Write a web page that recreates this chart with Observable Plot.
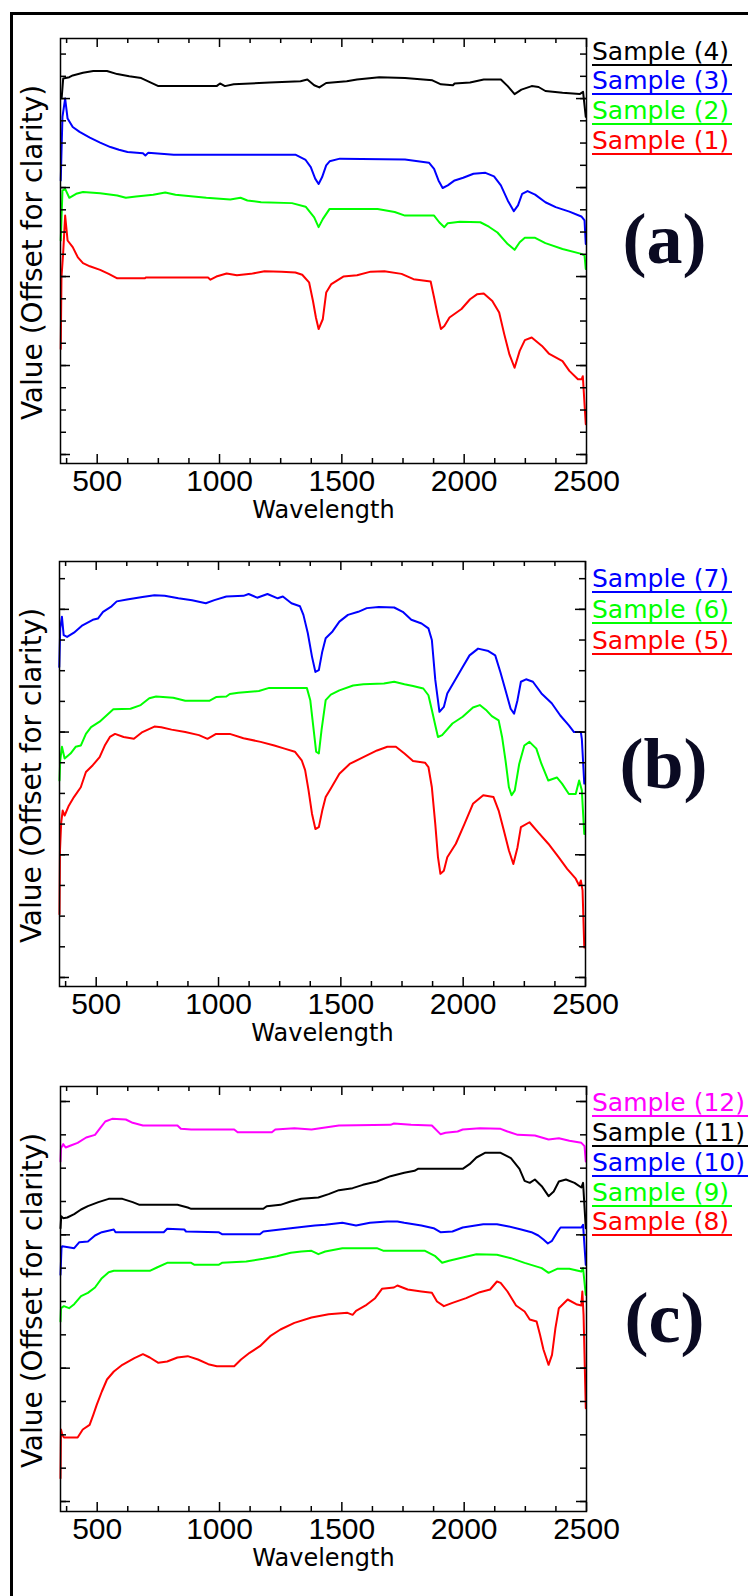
<!DOCTYPE html>
<html><head><meta charset="utf-8">
<script src="https://cdn.jsdelivr.net/npm/d3@7"></script>
<script src="https://cdn.jsdelivr.net/npm/@observablehq/plot@0.6"></script>
<style>
html,body{margin:0;padding:0;background:#fff;}
#page{position:relative;width:748px;height:1596px;overflow:hidden;background:#fff;}
#border{position:absolute;left:10px;top:12px;width:800px;height:1700px;border-left:3px solid #000;border-top:3px solid #000;}
.panel{position:absolute;}
.leg{position:absolute;left:592px;font-family:"DejaVu Sans";font-size:25px;line-height:25px;height:25px;white-space:nowrap;padding-right:3px;border-bottom:2px solid;}
</style></head>
<body><div id="page"><div id="border"></div></div>
<script>
// ---------- data (wavelength nm, offset value) ----------
const xMajor = [500, 1000, 1500, 2000, 2500];
const xMinor = [375, 625, 750, 875, 1125, 1250, 1375, 1625, 1750, 1875, 2125, 2250, 2375];

// Panel (a)
const wl4 = [355,361,386,400,442,484,540,582,631,680,715,750,988,1002,1022,1058,1205,1331,1359,1387,1408,1436,1520,1562,1653,1758,1870,1905,1954,1961,2024,2080,2150,2178,2206,2234,2276,2304,2332,2402,2472,2486,2497];
const s4  = [0.803,0.845,0.848,0.852,0.858,0.862,0.862,0.855,0.850,0.846,0.837,0.828,0.828,0.834,0.828,0.832,0.836,0.839,0.843,0.830,0.825,0.835,0.839,0.843,0.848,0.846,0.841,0.832,0.830,0.834,0.836,0.843,0.843,0.828,0.810,0.820,0.828,0.826,0.817,0.813,0.810,0.815,0.759];
const wl3 = [351,358,369,379,400,428,470,512,554,589,624,687,697,708,813,1310,1352,1373,1391,1405,1419,1436,1450,1492,1758,1856,1877,1895,1912,1933,1961,1996,2038,2087,2122,2150,2178,2203,2220,2237,2259,2290,2332,2374,2430,2479,2492,2497];
const s3  = [0.616,0.759,0.800,0.755,0.736,0.725,0.712,0.701,0.691,0.685,0.680,0.677,0.672,0.678,0.674,0.674,0.662,0.646,0.620,0.608,0.623,0.650,0.659,0.665,0.663,0.656,0.642,0.616,0.599,0.605,0.616,0.622,0.631,0.633,0.625,0.605,0.571,0.547,0.560,0.586,0.592,0.584,0.567,0.556,0.546,0.535,0.526,0.473];
const wl2 = [351,358,369,386,414,442,512,582,617,659,729,778,820,946,1044,1086,1114,1170,1296,1352,1387,1405,1422,1450,1646,1716,1758,1877,1898,1919,1933,1982,2066,2101,2136,2178,2206,2227,2248,2290,2332,2402,2479,2492,2497];
const s2  = [0.481,0.593,0.597,0.577,0.586,0.590,0.587,0.582,0.577,0.580,0.584,0.589,0.584,0.577,0.573,0.577,0.571,0.567,0.565,0.557,0.533,0.511,0.529,0.552,0.552,0.545,0.537,0.537,0.522,0.511,0.520,0.523,0.522,0.512,0.499,0.473,0.460,0.477,0.487,0.487,0.475,0.462,0.451,0.447,0.417];
const wl1 = [351,354,361,369,379,400,421,442,470,512,547,582,694,700,953,963,987,1029,1071,1128,1184,1254,1310,1338,1366,1382,1394,1405,1422,1436,1457,1506,1562,1618,1674,1744,1793,1863,1877,1891,1905,1919,1940,1989,2024,2052,2080,2115,2143,2164,2185,2206,2227,2248,2276,2318,2346,2402,2430,2465,2480,2485,2497];
const s1  = [0.237,0.398,0.454,0.537,0.481,0.466,0.443,0.430,0.423,0.415,0.406,0.396,0.396,0.398,0.398,0.393,0.400,0.407,0.403,0.406,0.412,0.411,0.409,0.404,0.387,0.345,0.308,0.282,0.304,0.364,0.383,0.400,0.403,0.411,0.412,0.406,0.394,0.389,0.353,0.315,0.282,0.289,0.308,0.327,0.349,0.360,0.362,0.345,0.319,0.270,0.225,0.195,0.233,0.257,0.263,0.244,0.227,0.210,0.188,0.169,0.169,0.176,0.068];

// Panel (b)
const wl7 = [349,353,360,367,381,409,444,486,507,528,563,584,626,689,738,780,836,892,948,983,1032,1102,1123,1158,1200,1242,1263,1298,1333,1347,1365,1382,1396,1410,1424,1438,1466,1494,1529,1571,1606,1655,1718,1753,1788,1830,1858,1872,1886,1903,1921,1935,1963,1998,2026,2061,2103,2131,2152,2173,2194,2208,2222,2236,2257,2285,2320,2362,2397,2432,2453,2481,2485,2495];
const s7  = [0.506,0.569,0.588,0.558,0.555,0.562,0.574,0.583,0.585,0.596,0.605,0.613,0.616,0.620,0.623,0.622,0.618,0.615,0.610,0.615,0.621,0.622,0.625,0.619,0.625,0.618,0.621,0.610,0.605,0.591,0.561,0.523,0.498,0.501,0.531,0.553,0.564,0.580,0.591,0.596,0.602,0.604,0.603,0.596,0.583,0.577,0.569,0.550,0.485,0.433,0.441,0.463,0.482,0.506,0.525,0.536,0.532,0.525,0.498,0.468,0.438,0.430,0.452,0.482,0.486,0.482,0.463,0.447,0.427,0.411,0.400,0.400,0.389,0.316];
const wl6 = [350,353,360,371,395,416,437,458,479,514,542,570,640,682,717,745,815,864,962,990,1032,1046,1081,1165,1207,1361,1375,1389,1399,1410,1421,1438,1459,1494,1550,1592,1676,1718,1760,1795,1837,1858,1872,1886,1897,1914,1956,1998,2040,2068,2096,2117,2145,2159,2173,2187,2198,2211,2229,2250,2271,2299,2320,2348,2383,2404,2432,2460,2474,2485,2495];
const s6  = [0.321,0.354,0.376,0.357,0.365,0.376,0.378,0.397,0.408,0.417,0.427,0.437,0.438,0.444,0.455,0.458,0.456,0.451,0.451,0.457,0.458,0.462,0.464,0.467,0.472,0.472,0.452,0.403,0.368,0.365,0.403,0.452,0.461,0.468,0.476,0.478,0.479,0.482,0.478,0.475,0.471,0.460,0.436,0.411,0.392,0.395,0.414,0.425,0.440,0.444,0.435,0.426,0.419,0.392,0.354,0.310,0.297,0.305,0.348,0.378,0.384,0.373,0.348,0.321,0.326,0.316,0.299,0.299,0.321,0.305,0.234];
const wl5 = [350,352,357,363,371,388,409,437,458,486,514,535,556,577,612,654,689,738,766,808,864,920,955,990,1046,1102,1172,1228,1270,1312,1340,1354,1368,1382,1396,1410,1424,1438,1459,1494,1536,1592,1648,1690,1725,1760,1795,1844,1858,1872,1886,1897,1907,1921,1935,1970,2005,2040,2082,2124,2145,2166,2187,2205,2222,2236,2271,2306,2348,2390,2425,2460,2474,2481,2488,2495];
const s5  = [0.103,0.207,0.253,0.272,0.264,0.280,0.294,0.310,0.335,0.346,0.359,0.378,0.392,0.397,0.392,0.389,0.400,0.409,0.408,0.404,0.400,0.395,0.389,0.397,0.397,0.390,0.384,0.378,0.373,0.368,0.354,0.338,0.305,0.267,0.242,0.245,0.272,0.294,0.308,0.332,0.348,0.359,0.370,0.376,0.376,0.365,0.353,0.350,0.343,0.310,0.250,0.196,0.169,0.174,0.196,0.218,0.250,0.283,0.297,0.294,0.272,0.240,0.207,0.185,0.212,0.245,0.253,0.237,0.218,0.196,0.177,0.161,0.150,0.158,0.142,0.049];

// Panel (c)
const wl12 = [350,352,361,371,392,420,455,491,512,533,561,617,645,687,828,842,884,1060,1074,1214,1228,1306,1376,1432,1488,1699,1713,1783,1868,1903,1924,1973,1994,2064,2149,2177,2219,2289,2345,2387,2430,2479,2492,2497];
const s12  = [0.510,0.530,0.536,0.531,0.534,0.538,0.546,0.550,0.560,0.570,0.574,0.573,0.568,0.564,0.564,0.559,0.558,0.558,0.554,0.554,0.558,0.560,0.558,0.561,0.564,0.565,0.567,0.565,0.564,0.551,0.553,0.555,0.558,0.560,0.559,0.555,0.550,0.549,0.543,0.545,0.541,0.538,0.533,0.510];
const wl11 = [350,353,361,378,406,434,462,505,547,603,645,673,828,870,884,1179,1193,1249,1291,1334,1404,1446,1488,1544,1586,1643,1699,1755,1797,1811,1994,2022,2050,2085,2149,2191,2226,2247,2268,2289,2317,2345,2366,2387,2416,2451,2479,2486,2497];
const s11  = [0.410,0.428,0.425,0.426,0.431,0.438,0.443,0.449,0.454,0.454,0.449,0.445,0.445,0.441,0.439,0.439,0.443,0.445,0.450,0.454,0.456,0.461,0.467,0.470,0.475,0.480,0.488,0.493,0.496,0.499,0.499,0.506,0.516,0.523,0.523,0.515,0.499,0.481,0.478,0.483,0.473,0.458,0.465,0.480,0.483,0.478,0.471,0.478,0.410];
const wl10 = [350,354,357,406,427,462,491,519,568,575,772,786,856,863,996,1010,1165,1179,1291,1362,1390,1432,1502,1558,1615,1685,1727,1755,1825,1875,1903,1952,1994,2078,2134,2177,2233,2275,2303,2324,2342,2359,2380,2394,2479,2486,2497];
const s10  = [0.340,0.380,0.383,0.380,0.389,0.390,0.399,0.404,0.408,0.404,0.404,0.409,0.408,0.405,0.404,0.401,0.401,0.405,0.410,0.413,0.414,0.415,0.418,0.414,0.418,0.420,0.420,0.418,0.414,0.410,0.404,0.405,0.411,0.416,0.416,0.413,0.408,0.404,0.399,0.393,0.387,0.391,0.404,0.411,0.411,0.415,0.355];
const wl9 = [350,352,364,385,406,434,462,491,519,547,568,715,744,786,884,898,996,1010,1109,1179,1235,1291,1334,1376,1404,1432,1502,1643,1671,1840,1882,1910,1938,1994,2050,2134,2191,2247,2317,2345,2380,2430,2479,2486,2497];
const s9  = [0.270,0.290,0.293,0.290,0.296,0.308,0.313,0.321,0.335,0.344,0.346,0.346,0.351,0.358,0.358,0.355,0.355,0.358,0.360,0.364,0.368,0.373,0.375,0.376,0.371,0.375,0.380,0.380,0.376,0.376,0.368,0.358,0.361,0.366,0.371,0.370,0.365,0.358,0.350,0.343,0.349,0.349,0.345,0.350,0.310];
const wl8 = [350,352,357,364,420,441,469,484,498,519,540,568,603,652,687,715,750,786,828,870,912,954,989,1060,1088,1123,1165,1207,1249,1306,1376,1446,1523,1544,1558,1601,1636,1664,1713,1727,1769,1825,1868,1889,1917,1952,2008,2064,2106,2134,2149,2177,2212,2247,2268,2296,2310,2324,2345,2359,2373,2387,2423,2458,2479,2483,2488,2497];
const s8  = [0.035,0.108,0.100,0.096,0.096,0.108,0.115,0.130,0.145,0.165,0.183,0.195,0.205,0.215,0.221,0.216,0.208,0.210,0.216,0.218,0.213,0.206,0.203,0.203,0.213,0.223,0.233,0.248,0.258,0.268,0.276,0.281,0.283,0.280,0.286,0.295,0.305,0.319,0.321,0.324,0.318,0.315,0.313,0.300,0.293,0.298,0.305,0.314,0.318,0.330,0.328,0.315,0.294,0.285,0.273,0.270,0.250,0.228,0.205,0.220,0.260,0.290,0.303,0.296,0.294,0.315,0.280,0.140];

const panels = [
  {tag:"(a)", top:0, left:0, yDomain:[-0.0202,0.935], yMinor:d3.range(0,0.901,0.05), yMajor:[0,0.2,0.4,0.6,0.8], tagDy:224,
   series:[{name:"Sample (4)",w:wl4,v:s4,color:"#000000"},{name:"Sample (3)",w:wl3,v:s3,color:"#0000ff"},{name:"Sample (2)",w:wl2,v:s2,color:"#00ff00"},{name:"Sample (1)",w:wl1,v:s1,color:"#ff0000"}],
   legendY:[64.5,94,123.5,153.5]},
  {tag:"(b)", top:523, left:-1.5, yDomain:[-0.0147,0.678], yMinor:d3.range(0,0.651,0.05), yMajor:[0,0.2,0.4,0.6], tagDy:226,
   series:[{name:"Sample (7)",w:wl7,v:s7,color:"#0000ff"},{name:"Sample (6)",w:wl6,v:s6,color:"#00ff00"},{name:"Sample (5)",w:wl5,v:s5,color:"#ff0000"}],
   legendY:[592,623,653.5]},
  {tag:"(c)", top:1048, left:0, yDomain:[-0.015,0.6225], yMinor:d3.range(0,0.601,0.05), yMajor:[0,0.2,0.4,0.6], tagDy:255,
   series:[{name:"Sample (12)",w:wl12,v:s12,color:"#ff00ff"},{name:"Sample (11)",w:wl11,v:s11,color:"#000000"},{name:"Sample (10)",w:wl10,v:s10,color:"#0000ff"},{name:"Sample (9)",w:wl9,v:s9,color:"#00ff00"},{name:"Sample (8)",w:wl8,v:s8,color:"#ff0000"}],
   legendY:[1116,1146,1175.5,1206,1235]}
];

const W = 748, H = 525, mt = 38, mb = 62, ml = 60, mr = 162;
const fh = H - mt - mb, fw = W - ml - mr;
const page = document.getElementById("page");

for (const p of panels) {
  const lines = p.series.map(s => Plot.line(s.w.map((w, i) => [w, s.v[i]]), {stroke: s.color, strokeWidth: 2}));
  const chart = Plot.plot({
    width: W, height: H, marginTop: mt, marginBottom: mb, marginLeft: ml, marginRight: mr,
    x: {domain: [350, 2500]},
    y: {domain: p.yDomain, axis: null},
    style: {fontFamily: "Liberation Sans", background: "transparent", overflow: "visible"},
    marks: [
      ...lines,
      Plot.tickX(xMinor, {x: d => d, insetTop: fh - 5, strokeWidth: 1.5}),
      Plot.tickX(xMinor, {x: d => d, insetBottom: fh - 5, strokeWidth: 1.5}),
      Plot.tickX(xMajor, {x: d => d, insetTop: fh - 9, strokeWidth: 1.5}),
      Plot.tickX(xMajor, {x: d => d, insetBottom: fh - 9, strokeWidth: 1.5}),
      Plot.tickY(p.yMinor, {y: d => d, insetRight: fw - 6, strokeWidth: 1.5}),
      Plot.tickY(p.yMinor, {y: d => d, insetLeft: fw - 6, strokeWidth: 1.5}),
      Plot.tickY(p.yMajor, {y: d => d, insetRight: fw - 10, strokeWidth: 1.5}),
      Plot.tickY(p.yMajor, {y: d => d, insetLeft: fw - 10, strokeWidth: 1.5}),
      Plot.frame({stroke: "#000", strokeWidth: 1.5}),
      Plot.axisX(xMajor, {tickSize: 0, tickPadding: 6, fontSize: 30, label: null, tickFormat: d => `${d}`, fill: "#000"}),
      Plot.text(["Wavelength"], {frameAnchor: "bottom", dy: 54, fontSize: 24, fontFamily: "DejaVu Sans", fill: "#000"}),
      Plot.text(["Value (Offset for clarity)"], {frameAnchor: "left", textAnchor: "middle", dx: -27, dy: 1.5, rotate: -90, fontSize: 28, fontFamily: "DejaVu Sans", fill: "#000"}),
      Plot.text([p.tag], {frameAnchor: "top-right", dx: 78, dy: p.tagDy, textAnchor: "middle", lineAnchor: "bottom", fontSize: 72, fontFamily: "Liberation Serif", fontWeight: "bold", fill: "#0a0a22"})
    ]
  });
  chart.classList.add("panel");
  chart.style.top = p.top + "px";
  chart.style.left = p.left + "px";
  page.appendChild(chart);
  p.series.forEach((s, i) => {
    const d = document.createElement("div");
    d.className = "leg";
    d.textContent = s.name;
    d.style.color = s.color;
    d.style.borderColor = s.color;
    d.style.top = (p.legendY[i] - 26) + "px";
    page.appendChild(d);
  });
}
</script>
</body></html>
